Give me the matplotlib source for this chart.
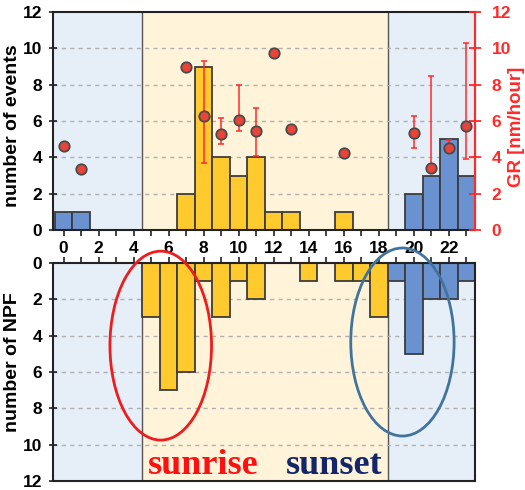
import matplotlib
matplotlib.use("Agg")
import matplotlib.pyplot as plt
from matplotlib.patches import Ellipse
import numpy as np

plt.rcParams["font.family"] = ["Liberation Sans", "DejaVu Sans"]

# Hour of day (local time)
hours = list(range(24))

# Number of events per hour (upper panel)
events = [1, 1, 0, 0, 0, 0, 0, 2, 9, 4, 3, 4, 1, 1, 0, 0, 1, 0, 0, 0, 2, 3, 5, 3]

# Number of NPF onsets per hour (lower panel)
npf = [0, 0, 0, 0, 0, 3, 7, 6, 1, 3, 1, 2, 0, 0, 1, 0, 1, 1, 3, 1, 5, 2, 2, 1]

# Growth rates [nm/hour]
gr_hours = [0, 1, 7, 8, 9, 10, 11, 12, 13, 16, 20, 21, 22, 23]
gr_values = [4.60, 3.35, 9.00, 6.25, 5.27, 6.06, 5.46, 9.74, 5.55, 4.26, 5.36, 3.43, 4.54, 5.70]

# Growth-rate ranges (min / max) where available
err_hours = [8, 9, 10, 11, 20, 21, 22, 23]
err_low = [3.67, 4.72, 5.46, 4.08, 4.50, 3.30, 4.35, 3.90]
err_high = [9.28, 6.15, 7.99, 6.74, 6.28, 8.45, 4.95, 10.29]

day_start, day_end = 4.5, 18.5
y_ticks = [0, 2, 4, 6, 8, 10, 12]
x_major = list(range(0, 24, 2))

BLUE_BG = "#E6EEF8"
YELLOW_BG = "#FFF4D9"
BAR_YELLOW = "#FFCA2E"
BAR_BLUE = "#6A92D1"
EDGE = "#3C3C3C"
RED = "#FF2A2A"

bar_colors = [BAR_YELLOW if day_start < h < day_end else BAR_BLUE for h in hours]

fig = plt.figure(figsize=(5.25, 4.9), dpi=100)
ax1 = fig.add_axes([0.101, 0.5306, 0.804, 0.4449])
ax2 = fig.add_axes([0.101, 0.0184, 0.804, 0.4449])

xmin, xmax = -0.6, 23.5


def shade(ax):
    ax.axvspan(xmin, day_start, facecolor=BLUE_BG, edgecolor="none", zorder=0)
    ax.axvspan(day_start, day_end, facecolor=YELLOW_BG, edgecolor="none", zorder=0)
    ax.axvspan(day_end, xmax, facecolor=BLUE_BG, edgecolor="none", zorder=0)
    for xb in (day_start, day_end):
        ax.axvline(xb, color="#555555", lw=1.0, zorder=0.5)
    for yv in (2, 4, 6, 8, 10):
        ax.axhline(yv, color="#B0B0B0", lw=1.0, ls=(0, (3, 3)), zorder=0.6)


tick_font = dict(fontsize=12.5, fontweight="bold")

# ---- upper panel: events and growth rate ----
shade(ax1)
ax1.bar(hours, events, width=1.0, color=bar_colors, edgecolor=EDGE, linewidth=1.3, zorder=2)
ax1.set_xlim(xmin, xmax)
ax1.set_ylim(0, 12)
ax1.set_yticks(y_ticks)
ax1.set_yticklabels([str(v) for v in y_ticks], **tick_font)
ax1.set_xticks(x_major)
ax1.set_xticks(hours, minor=True)
ax1.set_xticklabels([str(v) for v in x_major], **tick_font)
ax1.tick_params(axis="x", which="both", direction="out", length=4, width=1.2, pad=4, color="#222222")
ax1.tick_params(axis="y", direction="inout", length=6, width=1.2, pad=5, color="#222222")
ax1.set_ylabel("number of events", fontsize=14, fontweight="bold")
ax1.yaxis.set_label_coords(-0.075, 0.48)
for s in ("left", "bottom", "top"):
    ax1.spines[s].set_color("#222222")
    ax1.spines[s].set_linewidth(1.5)
ax1.spines["right"].set_visible(False)

axr = ax1.twinx()
axr.set_ylim(0, 12)
axr.set_yticks(y_ticks)
axr.set_yticklabels([str(v) for v in y_ticks], color=RED, **tick_font)
axr.tick_params(axis="y", direction="inout", length=8, width=1.3, pad=8, colors=RED)
axr.spines["right"].set_color(RED)
axr.spines["right"].set_linewidth(1.6)
for s in ("left", "bottom", "top"):
    axr.spines[s].set_visible(False)
axr.set_ylabel("GR [nm/hour]", color=RED, fontsize=13.5, fontweight="bold")
axr.yaxis.set_label_coords(1.078, 0.475)

gr_lookup = dict(zip(gr_hours, gr_values))
err_mid = [gr_lookup[h] for h in err_hours]
yerr = [np.array(err_mid) - np.array(err_low), np.array(err_high) - np.array(err_mid)]
axr.errorbar(err_hours, err_mid, yerr=yerr, fmt="none", ecolor=RED, elinewidth=1.3,
             capsize=2, capthick=1.3, alpha=0.85, zorder=3)
axr.plot(gr_hours, gr_values, "o", ms=7.5, mfc="#E8443A", mec="#4A4A4A", mew=1.3, zorder=4)

# ---- lower panel: NPF onsets ----
shade(ax2)
ax2.bar(hours, npf, width=1.0, color=bar_colors, edgecolor=EDGE, linewidth=1.3, zorder=2)
ax2.set_xlim(xmin, xmax)
ax2.set_ylim(12, 0)
ax2.set_yticks(y_ticks)
ax2.set_yticklabels([str(v) for v in y_ticks], **tick_font)
ax2.xaxis.tick_top()
ax2.set_xticks(x_major)
ax2.set_xticks(hours, minor=True)
ax2.tick_params(axis="x", which="both", direction="out", length=4, width=1.2,
                labeltop=False, labelbottom=False, color="#222222")
ax2.tick_params(axis="y", direction="inout", length=6, width=1.2, pad=5, color="#222222")
ax2.set_ylabel("number of NPF", fontsize=14, fontweight="bold")
ax2.yaxis.set_label_coords(-0.075, 0.545)
for s in ax2.spines.values():
    s.set_color("#222222")
    s.set_linewidth(1.5)

ax2.add_patch(Ellipse((5.55, 4.55), 5.8, 10.4, fill=False, edgecolor="#EE1C1C",
                      lw=2.0, zorder=5, clip_on=False))
ax2.add_patch(Ellipse((19.35, 4.35), 5.9, 10.35, fill=False, edgecolor="#41739F",
                      lw=2.0, zorder=5, clip_on=False))

serif = ["Liberation Serif", "DejaVu Serif"]
ax2.text(4.8, 11.6, "sunrise", color="#FF1010", fontsize=26, fontweight="bold",
         family=serif, ha="left", va="baseline", zorder=6)
ax2.text(12.7, 11.6, "sunset", color="#13266A", fontsize=26, fontweight="bold",
         family=serif, ha="left", va="baseline", zorder=6)

fig.savefig("out.png", dpi=100)
